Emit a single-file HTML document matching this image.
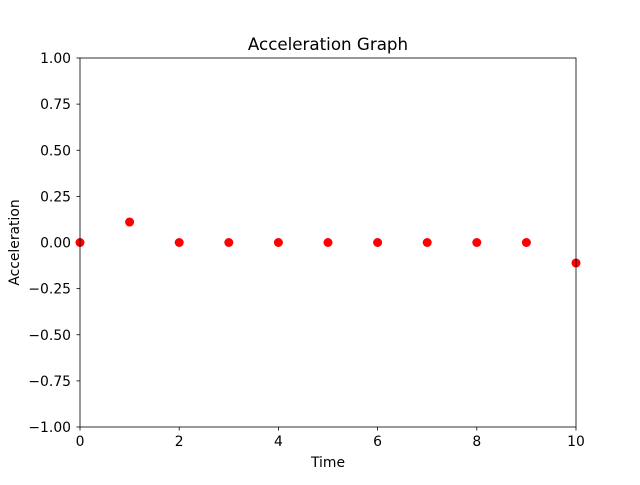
<!DOCTYPE html>
<html><head><meta charset="utf-8"><style>
body{margin:0;background:#fff}
svg text{font-family:"DejaVu Sans","Liberation Sans",sans-serif;font-size:13.9px;fill:#000}
</style></head><body>
<svg id="chart" width="640" height="480">
<rect width="640" height="480" fill="#fff"/>
<text x="328" y="50" text-anchor="middle" style="font-size:16.7px">Acceleration Graph</text>
<text x="328" y="467" text-anchor="middle">Time</text>
<text transform="translate(19,242.5) rotate(-90)" text-anchor="middle">Acceleration</text>
<g id="ticks"></g>
<g id="marks"></g>
<rect x="80" y="58" width="496" height="369" fill="none" stroke="#000" stroke-width="0.8"/>
</svg>
<script>
const times=[0,1,2,3,4,5,6,7,8,9,10];
const accel=[0,0.111,0,0,0,0,0,0,0,0,-0.111];
const xTicks=[0,2,4,6,8,10];
const yTicks=[-1,-0.75,-0.5,-0.25,0,0.25,0.5,0.75,1];
const yTickLabels=["\u22121.00","\u22120.75","\u22120.50","\u22120.25","0.00","0.25","0.50","0.75","1.00"];
const NS="http://www.w3.org/2000/svg";
function xs(v){return 80+v/10*496;}
function ys(v){return 242.5-v*184.5;}
const tg=document.getElementById('ticks'),mg=document.getElementById('marks');
function mk(tag,a,p){const e=document.createElementNS(NS,tag);for(const k in a)e.setAttribute(k,a[k]);p.appendChild(e);return e;}
xTicks.forEach(v=>{
 const l=mk('line',{x1:xs(v),x2:xs(v),y1:427,y2:430.5,stroke:'#000','stroke-width':0.8},tg);
 
 
 const t=mk('text',{x:xs(v),y:446,'text-anchor':'middle'},tg);t.textContent=v;
 
 
});
yTicks.forEach((v,i)=>{
 const l=mk('line',{x1:76.5,x2:80,y1:ys(v),y2:ys(v),stroke:'#000','stroke-width':0.8},tg);
 
 
 const t=mk('text',{x:71,y:ys(v)+5,'text-anchor':'end'},tg);t.textContent=yTickLabels[i];
 
 
});
times.forEach((v,i)=>{
 const c=mk('circle',{cx:xs(v),cy:ys(accel[i]),r:4.5,fill:'#ff0000'},mg);
 
 
});
</script>
</body></html>
